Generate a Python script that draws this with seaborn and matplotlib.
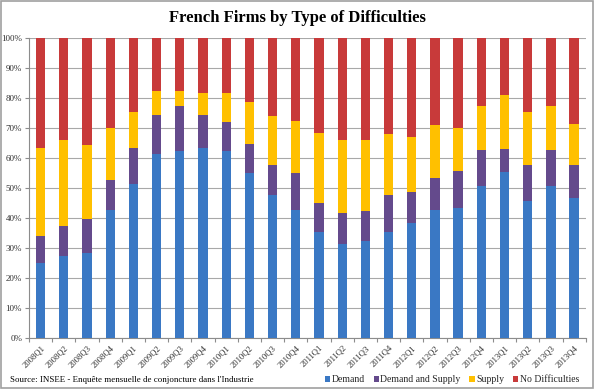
import matplotlib
matplotlib.use("Agg")
import matplotlib.pyplot as plt
import seaborn as sns
import numpy as np
import pandas as pd
from matplotlib.patches import Rectangle
from matplotlib.ticker import PercentFormatter, FixedLocator

quarters = ["2008Q1", "2008Q2", "2008Q3", "2008Q4", "2009Q1", "2009Q2", "2009Q3", "2009Q4",
            "2010Q1", "2010Q2", "2010Q3", "2010Q4", "2011Q1", "2011Q2", "2011Q3", "2011Q4",
            "2012Q1", "2012Q2", "2012Q3", "2012Q4", "2013Q1", "2013Q2", "2013Q3", "2013Q4"]
demand = [25.0, 27.4, 28.4, 42.7, 51.6, 61.5, 62.6, 63.5, 62.3, 55.1, 47.7, 42.9,
          35.5, 31.3, 32.4, 35.3, 38.3, 42.7, 43.6, 50.7, 55.3, 45.7, 50.7, 46.8]
demand_supply = [9.0, 10.2, 11.3, 10.0, 11.8, 13.0, 14.7, 11.0, 9.9, 9.8, 10.2, 12.2,
                 9.7, 10.6, 10.1, 12.6, 10.5, 10.9, 12.2, 12.2, 7.7, 12.0, 12.2, 10.9]
supply = [29.5, 28.4, 24.9, 17.5, 11.9, 8.1, 5.0, 7.2, 9.7, 13.9, 16.3, 17.3,
          23.3, 24.1, 23.5, 20.1, 18.3, 17.6, 14.4, 14.4, 18.2, 17.6, 14.4, 13.8]
no_difficulties = [36.5, 34.0, 35.4, 29.8, 24.7, 17.4, 17.7, 18.3, 18.1, 21.2, 25.8, 27.6,
                   31.5, 34.0, 34.0, 32.0, 32.9, 28.8, 29.8, 22.7, 18.8, 24.7, 22.7, 28.5]

series_names = ["Demand", "Demand and Supply", "Supply", "No Difficulties"]
colors = ["#3A78C4", "#644A8C", "#FFC000", "#C83A3A"]

df = pd.DataFrame({"Quarter": quarters, "Demand": demand,
                   "Demand and Supply": demand_supply, "Supply": supply,
                   "No Difficulties": no_difficulties})

sns.set_style("white")
plt.rcParams["font.family"] = ["Liberation Serif", "DejaVu Serif"]

fig = plt.figure(figsize=(5.95, 3.89), dpi=100)
ax = fig.add_axes([29/595, 1-338.3/389, (585.7-29)/595, (338.3-38.3)/389])

# cumulative tops, drawn from the tallest down so that each stack segment shows
cum = df[series_names].cumsum(axis=1)
for name, col in reversed(list(zip(series_names, colors))):
    sns.barplot(x=df["Quarter"], y=cum[name], color=col, width=0.4,
                ax=ax, saturation=1, edgecolor="none", zorder=3)

if ax.get_legend() is not None:
    ax.get_legend().remove()

ax.set_ylim(0, 100)
ax.set_xlim(-0.5, len(quarters) - 0.5)
ax.yaxis.set_major_locator(FixedLocator(np.arange(0, 101, 10)))
ax.yaxis.set_major_formatter(PercentFormatter(decimals=0))
ax.grid(axis="y", color="#A8A8A8", linewidth=0.8, zorder=0)
ax.set_axisbelow(True)
ax.set_xlabel("")
ax.set_ylabel("")
for s in ["top", "right"]:
    ax.spines[s].set_visible(False)
for s in ["left", "bottom"]:
    ax.spines[s].set_color("#8C8C8C")
    ax.spines[s].set_linewidth(0.8)

ax.tick_params(axis="y", labelsize=6.5, length=3, width=0.8,
               direction="out", left=True, pad=2, colors="#8C8C8C", labelcolor="#303030")
ax.set_xticks(range(len(quarters)))
ax.set_xticklabels(quarters, rotation=45, ha="right", rotation_mode="anchor",
                   fontsize=6.2, color="#303030")
ax.tick_params(axis="x", length=0, pad=4)
ax.set_xticks(np.arange(-0.5, len(quarters), 1), minor=True)
ax.tick_params(axis="x", which="minor", length=3, width=0.8, color="#8C8C8C", bottom=True)

fig.text(297/595, 1-18/389, "French Firms by Type of Difficulties", ha="center", va="center",
         fontsize=12, fontweight="bold", color="black")
fig.text(10/595, 1-380/389, "Source: INSEE - Enquête mensuelle de conjoncture dans l'Industrie",
         ha="left", va="center", fontsize=6.4, color="black")

handles = [Rectangle((0, 0), 1, 1, facecolor=c, edgecolor="none") for c in colors]
fig.legend(handles, series_names, loc="center", bbox_to_anchor=(452/595, 1-380/389),
           ncol=4, frameon=False, fontsize=7, handlelength=0.55, handleheight=0.55,
           handletextpad=0.15, columnspacing=0.9, borderaxespad=0, borderpad=0)

fig.add_artist(Rectangle((0.002, 0.003), 0.995, 0.994, transform=fig.transFigure,
                         fill=False, edgecolor="#A0A0A0", linewidth=1.2))

fig.savefig("out.png", dpi=100)
